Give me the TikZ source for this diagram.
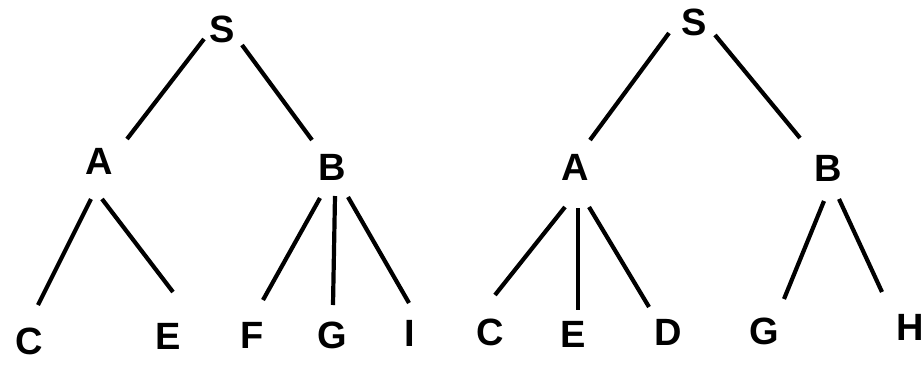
\documentclass[tikz,border=0pt]{standalone}
\usepackage{fontspec}
\setmainfont{Liberation Sans}
\usetikzlibrary{calc}
\begin{document}
\begin{tikzpicture}[x=1pt,y=-1pt,
  lbl/.style={inner sep=0pt,font=\fontsize{38}{42}\selectfont\bfseries},
  edge/.style={line width=4.2pt}]
\useasboundingbox (0,0) rectangle (924,365);
% left tree
\node[lbl] (S1) at (222,29) {S};
\node[lbl] (A1) at (99.5,161) {A};
\node[lbl] (B1) at (332,167) {B};
\node[lbl] (C1) at (29,341) {C};
\node[lbl] (E1) at (168,336) {E};
\node[lbl] (F1) at (252,335) {F};
\node[lbl] (G1) at (332,335) {G};
\node[lbl] (I1) at (410,333) {I};
\draw[edge] ($(S1)+(-18,10)$) -- ($(A1)+(27.5,-22)$);
\draw[edge] ($(S1)+(20,16)$) -- ($(B1)+(-20,-27)$);
\draw[edge] ($(A1)+(-8.5,38)$) -- ($(C1)+(9,-36)$);
\draw[edge] ($(A1)+(2.5,38)$) -- ($(E1)+(5,-44)$);
\draw[edge] ($(B1)+(-12,31)$) -- ($(F1)+(11,-35)$);
\draw[edge] ($(B1)+(3,29)$) -- ($(G1)+(1,-30)$);
\draw[edge] ($(B1)+(16,30)$) -- ($(I1)+(-1,-30)$);
% right tree
\node[lbl] (S2) at (694,22) {S};
\node[lbl] (A2) at (575,167) {A};
\node[lbl] (B2) at (828,168) {B};
\node[lbl] (C2) at (490,332) {C};
\node[lbl] (E2) at (573,334) {E};
\node[lbl] (D2) at (668,332) {D};
\node[lbl] (G2) at (764,331) {G};
\node[lbl] (H2) at (910,327) {H};
\draw[edge] ($(S2)+(-25,11)$) -- ($(A2)+(15,-27)$);
\draw[edge] ($(S2)+(21,13)$) -- ($(B2)+(-28,-30)$);
\draw[edge] ($(A2)+(-10,40)$) -- ($(C2)+(5,-37)$);
\draw[edge] ($(A2)+(3,41)$) -- ($(E2)+(5,-24)$);
\draw[edge] ($(A2)+(14,40)$) -- ($(D2)+(-19,-25)$);
\draw[edge] ($(B2)+(-4,33)$) -- ($(G2)+(20,-32)$);
\draw[edge] ($(B2)+(11,31)$) -- ($(H2)+(-28,-35)$);
\end{tikzpicture}
\end{document}
